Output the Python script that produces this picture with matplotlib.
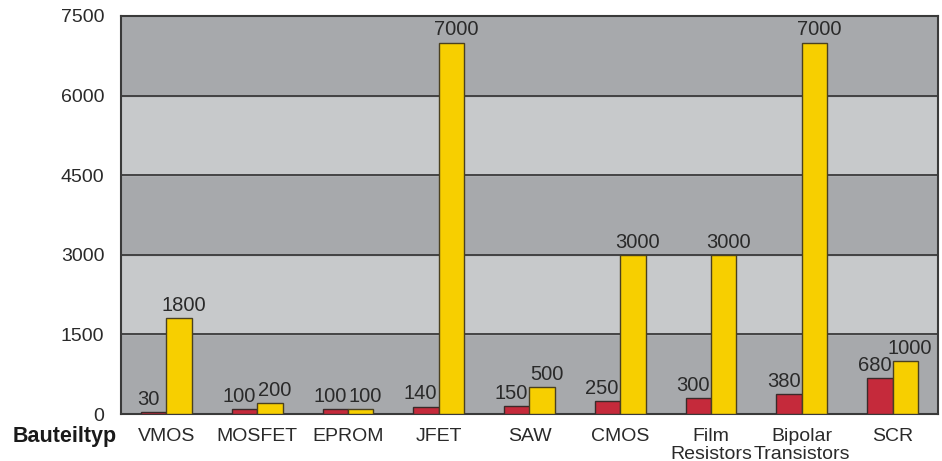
import matplotlib.pyplot as plt
import numpy as np

plt.rcParams['font.family'] = ['Liberation Sans', 'DejaVu Sans']

# Data
categories = ['VMOS', 'MOSFET', 'EPROM', 'JFET', 'SAW', 'CMOS',
              'Film\nResistors', 'Bipolar\nTransistors', 'SCR']
red_vals = [30, 100, 100, 140, 150, 250, 300, 380, 680]
yellow_vals = [1800, 200, 100, 7000, 500, 3000, 3000, 7000, 1000]
yticks = [0, 1500, 3000, 4500, 6000, 7500]

fig = plt.figure(figsize=(9.42, 4.61), dpi=100)
ax = fig.add_axes([121 / 942, 1 - 414 / 461, 817 / 942, 398 / 461])

x = np.arange(len(categories))
w = 0.28

# alternating background bands
band_cols = ['#a7a9ac', '#c7c9cb']
for i in range(len(yticks) - 1):
    ax.axhspan(yticks[i], yticks[i + 1], color=band_cols[i % 2], zorder=0)
for t in yticks[1:-1]:
    ax.axhline(t, color='#3a3a3a', lw=1.3, zorder=1)

ax.bar(x - w / 2, red_vals, w, color='#c52a3b', edgecolor='#3a2a2a', lw=1.0, zorder=3)
ax.bar(x + w / 2, yellow_vals, w, color='#f7cf00', edgecolor='#4a4020', lw=1.0, zorder=3)

for xi, r, yv in zip(x, red_vals, yellow_vals):
    ax.text(xi - w / 2 - 0.06, r + 60, str(r), ha='center', va='bottom',
            fontsize=14.5, color='#2a2a2a')
    ax.text(xi + w / 2 + 0.05, yv + 60, str(yv), ha='center', va='bottom',
            fontsize=14.5, color='#2a2a2a')

ax.set_xlim(-0.5, len(categories) - 0.5)
ax.set_ylim(0, 7500)
ax.set_yticks(yticks)
ax.set_yticklabels([str(t) for t in yticks], fontsize=14, color='#2a2a2a')
ax.set_xticks(x)
ax.set_xticklabels(categories, fontsize=14, color='#2a2a2a', linespacing=1.05)
ax.tick_params(length=0, pad=10)
ax.tick_params(axis='y', pad=12)
for s in ax.spines.values():
    s.set_color('#3a3a3a')
    s.set_linewidth(1.5)

fig.text(65 / 942, 1 - 436 / 461, 'Bauteiltyp', fontsize=15.5, fontweight='bold',
         ha='center', va='center', color='#1a1a1a')

plt.savefig('out.png', dpi=100)
